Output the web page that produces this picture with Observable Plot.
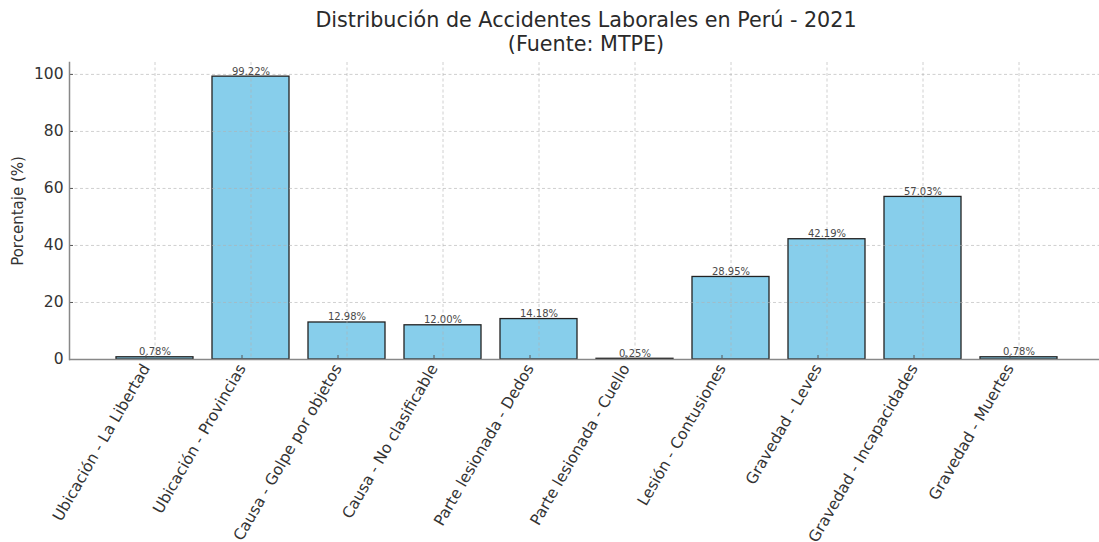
<!DOCTYPE html>
<html>
<head>
<meta charset="utf-8">
<script src="https://cdn.jsdelivr.net/npm/d3@7"></script>
<script src="https://cdn.jsdelivr.net/npm/@observablehq/plot@0.6"></script>
<style>
  html, body { margin: 0; padding: 0; background: #fff; overflow: hidden; }
  body { width: 1099px; height: 542px; position: relative; font-family: "DejaVu Sans", sans-serif; }
  #title { position: absolute; left: 0; top: 8px; width: 1172px; text-align: center; font-size: 20.7px; line-height: 24px; color: #2a2a2a; }
  #chart { position: absolute; left: 0; top: 56px; }
</style>
</head>
<body>
<div id="title">Distribución de Accidentes Laborales en Perú - 2021<br>(Fuente: MTPE)</div>
<div id="chart"></div>
<script>
const categories = [
  "Ubicación - La Libertad",
  "Ubicación - Provincias",
  "Causa - Golpe por objetos",
  "Causa - No clasificable",
  "Parte lesionada - Dedos",
  "Parte lesionada - Cuello",
  "Lesión - Contusiones",
  "Gravedad - Leves",
  "Gravedad - Incapacidades",
  "Gravedad - Muertes"
];
const values = [0.78, 99.22, 12.98, 12.00, 14.18, 0.25, 28.95, 42.19, 57.03, 0.78];
const yTicks = [0, 20, 40, 60, 80, 100];
const yLabel = "Porcentaje (%)";

const data = categories.map((c, i) => ({category: c, value: values[i]}));
const yMax = d3.max(values) * 1.05;

const chart = Plot.plot({
  width: 1099,
  height: 486,
  marginLeft: 69,
  marginRight: 0,
  marginTop: 6,
  marginBottom: 183,
  style: {fontFamily: "DejaVu Sans, sans-serif", background: "transparent", overflow: "visible"},
  x: {domain: categories, range: [69, 1104], paddingInner: 0.2, paddingOuter: 0.46, label: null},
  y: {domain: [0, yMax], label: null},
  marks: [
    Plot.barY(data, {x: "category", y: "value", fill: "#87CEEB", stroke: "#222", strokeWidth: 1.3}),
    Plot.gridY(yTicks, {stroke: "#b0b0b0", strokeOpacity: 0.6, strokeDasharray: "3,2.5"}),
    Plot.gridX(categories, {stroke: "#b0b0b0", strokeOpacity: 0.6, strokeDasharray: "3,2.5"}),
    Plot.text(data, {x: "category", y: "value", text: d => d.value.toFixed(2) + "%", dy: -2, lineAnchor: "bottom", fontSize: 10, fill: "#4a4a4a"}),
    Plot.axisY(yTicks, {tickSize: -4, tickPadding: 10, fontSize: 15.5, fill: "#333", stroke: "#555", label: null}),
    Plot.axisX(categories, {tickSize: -4, tickPadding: 10, tickRotate: -60, dx: -9, fontSize: 15.5, fill: "#333", stroke: "#555", label: null}),
    Plot.ruleY([0], {stroke: "#888", strokeWidth: 1.5}),
    Plot.frame({anchor: "left", stroke: "#888", strokeWidth: 1.5}),
    Plot.text([yLabel], {frameAnchor: "left", rotate: -90, dx: -51, textAnchor: "middle", fontSize: 15, fill: "#333"})
  ]
});
document.getElementById("chart").appendChild(chart);
</script>
</body>
</html>
